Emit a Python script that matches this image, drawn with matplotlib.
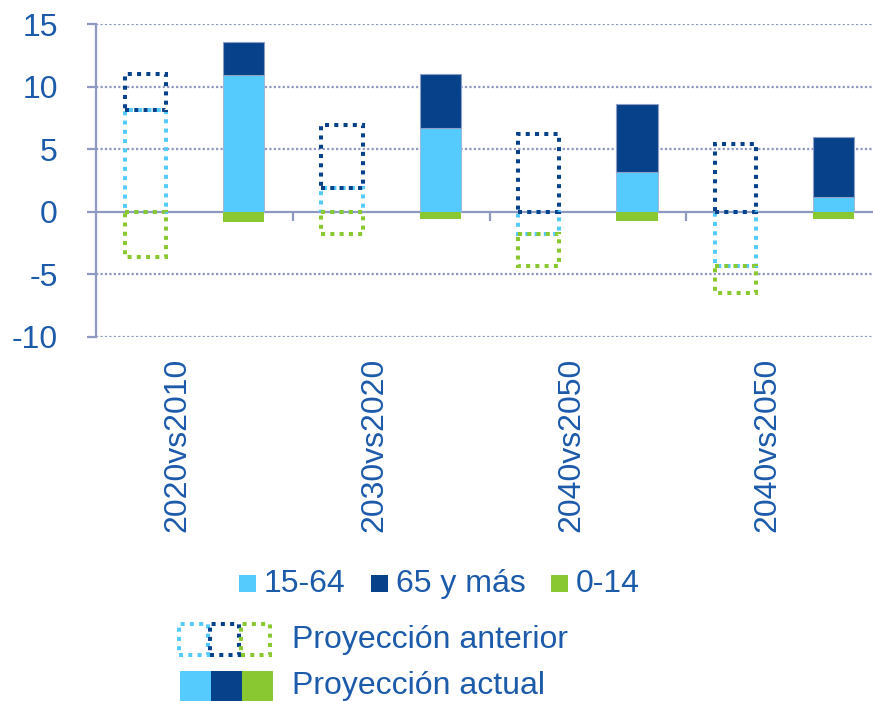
import numpy as np
import matplotlib.pyplot as plt
from matplotlib.patches import Rectangle
import matplotlib.transforms as mtransforms

plt.rcParams['font.family'] = ['Liberation Sans', 'DejaVu Sans']

categorias = ['2020vs2010', '2030vs2020', '2040vs2050', '2040vs2050']

# proyeccion anterior
ant_15_64 = [8.1, 1.9, -1.8, -4.3]
ant_65 = [2.9, 5.0, 6.2, 5.4]
ant_0_14 = [-3.6, -1.8, -2.5, -2.2]

# proyeccion actual
act_15_64 = [10.9, 6.7, 3.2, 1.2]
act_65 = [2.7, 4.3, 5.4, 4.8]
act_0_14 = [-0.8, -0.6, -0.7, -0.6]

c_claro = '#55CBFD'
c_oscuro = '#064189'
c_verde = '#8AC832'
c_texto = '#1C5AAA'
c_eje = '#8E99C2'
fs = 23

fig = plt.figure(figsize=(8.73, 7.01), dpi=100)
W, H = 873, 701
ax = fig.add_axes([96 / W, (H - 337) / H, (883 - 96) / W, (337 - 24) / H])

x = np.arange(len(categorias))
ant_15_64 = np.array(ant_15_64)
ant_65 = np.array(ant_65)
ant_0_14 = np.array(ant_0_14)
act_15_64 = np.array(act_15_64)
act_65 = np.array(act_65)
act_0_14 = np.array(act_0_14)

ancho = 0.21
dots = (0, (1, 1.3))
lw = 2.9

# base of 65+ bar: top of 15-64 if positive, else 0
base65 = np.where(ant_15_64 > 0, ant_15_64, 0)
base014 = np.where(ant_15_64 < 0, ant_15_64, 0)

ax.bar(x - 0.25, ant_15_64, ancho, fill=False, edgecolor=c_claro, linestyle=dots, linewidth=lw, zorder=3)
ax.bar(x - 0.25, ant_65, ancho, bottom=base65, fill=False, edgecolor=c_oscuro, linestyle=dots, linewidth=lw, zorder=4)
ax.bar(x - 0.25, ant_0_14, ancho, bottom=base014, fill=False, edgecolor=c_verde, linestyle=dots, linewidth=lw, zorder=4)

ax.bar(x + 0.25, act_15_64, ancho, color=c_claro, edgecolor='#9FB0D8', linewidth=0.6, zorder=3)
ax.bar(x + 0.25, act_65, ancho, bottom=act_15_64, color=c_oscuro, edgecolor='#8FA0C8', linewidth=0.8, zorder=3)
ax.bar(x + 0.25, act_0_14, ancho, color=c_verde, linewidth=0, zorder=3)

ax.set_xlim(-0.5, 3.5)
ax.set_ylim(-10, 15)
ax.set_yticks([-10, -5, 0, 5, 10, 15])
ax.set_yticklabels(['-10', '-5', '0', '5', '10', '15'])
for v in [-10, -5, 5, 10, 15]:
    ax.axhline(v, color=c_eje, linestyle=(0, (1, 1)), linewidth=1.6, zorder=1)

for s in ['top', 'right']:
    ax.spines[s].set_visible(False)
ax.spines['bottom'].set_position(('data', 0))
ax.spines['bottom'].set_color(c_eje)
ax.spines['bottom'].set_linewidth(1.6)
ax.spines['bottom'].set_zorder(2)
ax.spines['left'].set_color(c_eje)
ax.spines['left'].set_linewidth(1.6)

ax.set_xticks([0.5, 1.5, 2.5, 3.5])
ax.set_xticklabels([])
ax.tick_params(axis='x', direction='out', length=6.5, width=1.6, color=c_eje)
ax.tick_params(axis='y', direction='out', length=6.5, width=1.6, color=c_eje,
               labelsize=fs, labelcolor=c_texto, pad=21)

trans = mtransforms.blended_transform_factory(ax.transData, ax.transAxes)
for i, cat in enumerate(categorias):
    ax.text(i - 0.086, -0.067, cat, transform=trans, rotation=90, ha='center', va='top',
            fontsize=fs, color=c_texto)

# leyenda manual
def fx(px):
    return px / W

def fy(py):
    return (H - py) / H

items = [(239, c_claro, '15-64'), (371, c_oscuro, '65 y más'), (551, c_verde, '0-14')]
for x0, col, lab in items:
    fig.add_artist(Rectangle((fx(x0), fy(592)), 17 / W, 17 / H, transform=fig.transFigure,
                             facecolor=col, edgecolor='none'))
    fig.text(fx(x0 + 25), fy(584), lab, fontsize=fs, color=c_texto, va='center', ha='left')

cols = [c_claro, c_oscuro, c_verde]
for k, col in enumerate(cols):
    fig.add_artist(Rectangle((fx(179 + 31 * k), fy(655)), 29 / W, 31 / H, transform=fig.transFigure,
                             fill=False, edgecolor=col, linestyle=dots, linewidth=lw))
    fig.add_artist(Rectangle((fx(180 + 31 * k), fy(703)), 31 / W, 32 / H, transform=fig.transFigure,
                             facecolor=col, edgecolor='none'))
fig.text(fx(292), fy(640), 'Proyección anterior', fontsize=fs, color=c_texto, va='center', ha='left')
fig.text(fx(292), fy(686), 'Proyección actual', fontsize=fs, color=c_texto, va='center', ha='left')

fig.savefig('out.png', dpi=100)
